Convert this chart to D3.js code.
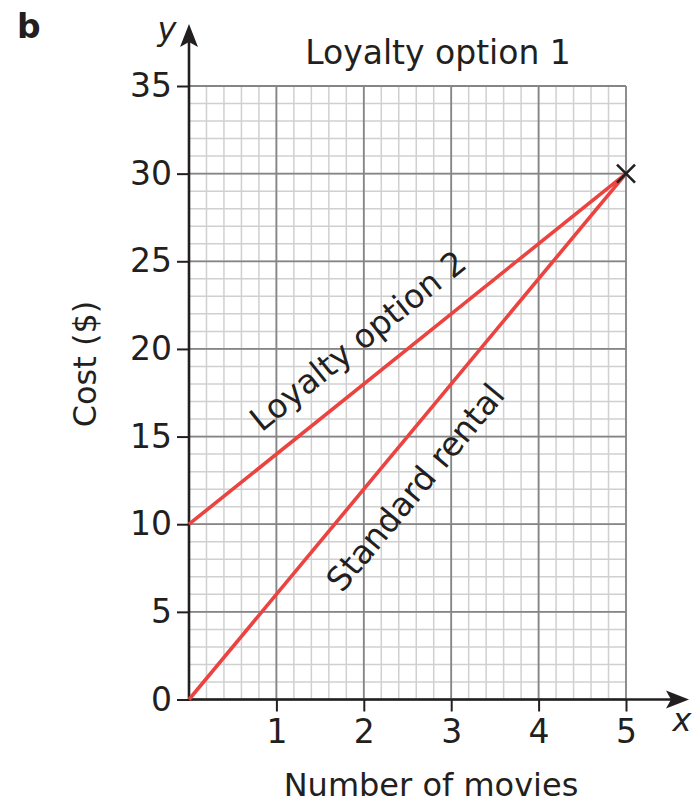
<!DOCTYPE html>
<html>
<head>
<meta charset="utf-8">
<script src="https://cdn.jsdelivr.net/npm/d3@7"></script>
<style>
  html, body { margin: 0; padding: 0; background: #fff; }
  svg { display: block; }
  text { font-family: "DejaVu Sans", Verdana, sans-serif; fill: #231f20; }
</style>
</head>
<body>
<svg id="chart" width="692" height="806"></svg>
<script>
// ---- data ----
const xTicks = [1, 2, 3, 4, 5];
const yTicks = [0, 5, 10, 15, 20, 25, 30, 35];
const standardRental = [[0, 0], [5, 30]];
const loyaltyOption2 = [[0, 10], [5, 30]];
const intersection = [[5, 30]];
const panelLabel = "b";
const title = "Loyalty option 1";
const xTitle = "Number of movies";
const yTitle = "Cost ($)";

// ---- layout ----
const svg = d3.select("#chart");
const x = d3.scaleLinear().domain([0, 5]).range([189, 626]);
const y = d3.scaleLinear().domain([0, 35]).range([699.5, 86]);
const FS = 33;
const red = "#ea4340";

// grid
const g = svg.append("g");
const minorX = d3.range(0, 5.0001, 0.2);
const minorY = d3.range(0, 35.0001, 1);
g.selectAll(".mx").data(minorX).join("line")
  .attr("x1", d => x(d)).attr("x2", d => x(d))
  .attr("y1", y(0)).attr("y2", y(35))
  .attr("stroke", "#d0d0d0").attr("stroke-width", 1.5);
g.selectAll(".my").data(minorY).join("line")
  .attr("y1", d => y(d)).attr("y2", d => y(d))
  .attr("x1", x(0)).attr("x2", x(5))
  .attr("stroke", "#d0d0d0").attr("stroke-width", 1.5);
g.selectAll(".Mx").data(d3.range(0, 6)).join("line")
  .attr("x1", d => x(d)).attr("x2", d => x(d))
  .attr("y1", y(0)).attr("y2", y(35))
  .attr("stroke", "#858585").attr("stroke-width", 1.8);
g.selectAll(".My").data(yTicks).join("line")
  .attr("y1", d => y(d)).attr("y2", d => y(d))
  .attr("x1", x(0)).attr("x2", x(5))
  .attr("stroke", "#858585").attr("stroke-width", 1.8);

// axes
const yAxis = svg.append("g").attr("transform", `translate(${x(0)},0)`)
  .call(d3.axisLeft(y).tickValues(yTicks).tickFormat(d3.format("d")).tickSize(12).tickPadding(5));
const xAxis = svg.append("g").attr("transform", `translate(0,${y(0)})`)
  .call(d3.axisBottom(x).tickValues(xTicks).tickFormat(d3.format("d")).tickSize(12).tickPadding(8));
[yAxis, xAxis].forEach(a => {
  a.select(".domain").remove();
  a.selectAll(".tick line").attr("stroke", "#231f20").attr("stroke-width", 2);
  a.selectAll(".tick text").attr("font-size", FS).attr("font-family", "DejaVu Sans, sans-serif").attr("fill", "#231f20");
});

// axis lines with arrows
const axisColor = "#231f20";
svg.append("line").attr("x1", x(0)).attr("x2", x(0)).attr("y1", y(0) + 1).attr("y2", 40)
  .attr("stroke", axisColor).attr("stroke-width", 2.6);
svg.append("line").attr("x1", x(0) - 1).attr("x2", 672).attr("y1", y(0)).attr("y2", y(0))
  .attr("stroke", axisColor).attr("stroke-width", 2.6);
const ax0 = x(0), ay0 = y(0);
svg.append("path")
  .attr("d", `M${ax0},24 L${ax0 + 9},47 L${ax0},42 L${ax0 - 9},47 Z`)
  .attr("fill", axisColor);
svg.append("path")
  .attr("d", `M689,${ay0} L666,${ay0 - 9} L671,${ay0} L666,${ay0 + 9} Z`)
  .attr("fill", axisColor);

// lines
const line = d3.line().x(d => x(d[0])).y(d => y(d[1]));
svg.append("path").datum(loyaltyOption2).attr("d", line)
  .attr("fill", "none").attr("stroke", red).attr("stroke-width", 3.6);
svg.append("path").datum(standardRental).attr("d", line)
  .attr("fill", "none").attr("stroke", red).attr("stroke-width", 3.6);

// X marker
svg.selectAll(".xm").data(intersection).join("path")
  .attr("d", d => {
    const cx = x(d[0]), cy = y(d[1]), s = 9;
    return `M${cx - s},${cy - s}L${cx + s},${cy + s}M${cx - s},${cy + s}L${cx + s},${cy - s}`;
  })
  .attr("stroke", "#231f20").attr("stroke-width", 2.6);

// line labels
function lineLabel(data, text, t, offset) {
  const p0 = [x(data[0][0]), y(data[0][1])], p1 = [x(data[1][0]), y(data[1][1])];
  const ang = Math.atan2(p1[1] - p0[1], p1[0] - p0[0]);
  const px = p0[0] + (p1[0] - p0[0]) * t, py = p0[1] + (p1[1] - p0[1]) * t;
  const nx = Math.sin(ang), ny = -Math.cos(ang);
  const cx = px + nx * offset, cy = py + ny * offset;
  svg.append("text")
    .attr("transform", `translate(${cx},${cy}) rotate(${ang * 180 / Math.PI})`)
    .attr("text-anchor", "middle")
    .attr("font-size", FS)
    .text(text);
}
lineLabel(loyaltyOption2, "Loyalty option 2", 0.44, 26);
lineLabel(standardRental, "Standard rental", 0.45, -50);

// titles
svg.append("text").attr("x", 17).attr("y", 38).attr("font-size", 33).attr("font-weight", "bold").text(panelLabel);
svg.append("text").attr("x", 438).attr("y", 64).attr("text-anchor", "middle").attr("font-size", FS).text(title);
svg.append("text").attr("x", 431).attr("y", 796).attr("text-anchor", "middle").attr("font-size", 32).text(xTitle);
svg.append("text").attr("transform", "translate(96,364) rotate(-90)").attr("text-anchor", "middle").attr("font-size", 32).text(yTitle);
svg.append("text").attr("x", 167).attr("y", 40).attr("text-anchor", "middle")
  .attr("font-family", "Liberation Serif, serif").attr("font-style", "italic").attr("font-size", 32).text("y");
svg.append("text").attr("x", 682).attr("y", 731).attr("text-anchor", "middle")
  .attr("font-family", "Liberation Serif, serif").attr("font-style", "italic").attr("font-size", 32).text("x");
</script>
</body>
</html>
